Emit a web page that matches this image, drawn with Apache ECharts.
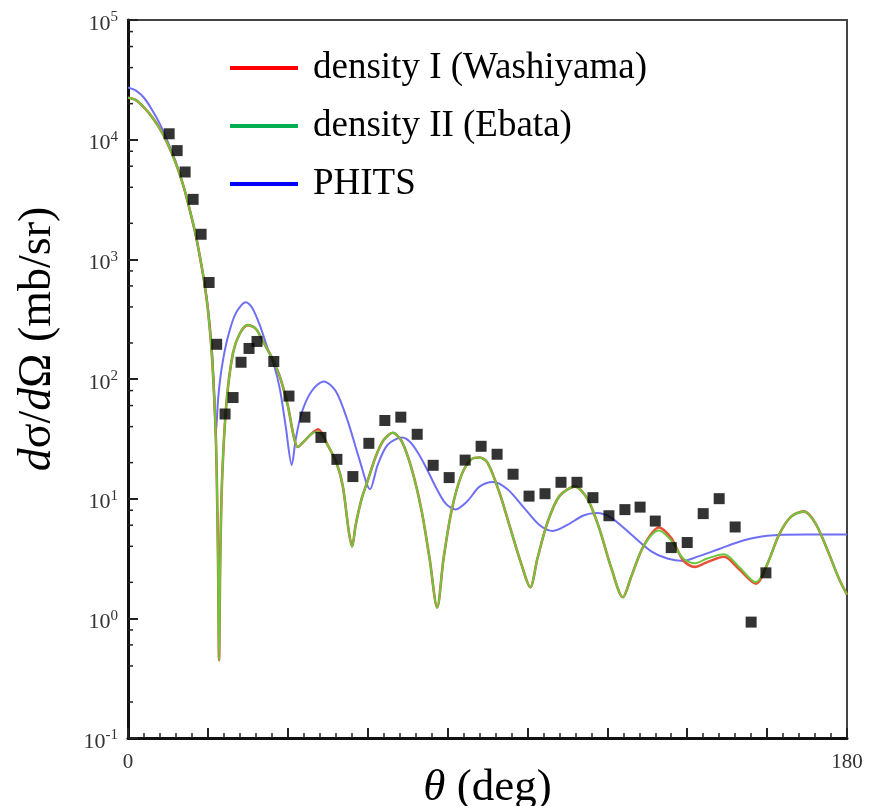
<!DOCTYPE html>
<html>
<head>
<meta charset="utf-8">
<script src="https://cdn.jsdelivr.net/npm/echarts@6/dist/echarts.min.js"></script>
<style>
  html, body { margin: 0; padding: 0; background: #fff; }
  #plot { width: 870px; height: 806px; }
</style>
</head>
<body>
<div id="plot"></div>
<script>
// density I (Washiyama) - 角度(deg) / 截面 (mb/sr)
var redAng = [0,2,4,6,8,10,12,14,16,17,18,19,20,21,22,22.5,22.8,23.1,23.6,24.7,26.3,28,30,32,34,36,38,40,41.5,42.5,44,46,47.6,50,52.3,53.8,55.3,56.1,57,58.5,60,62,64,66.3,68.5,71,73.5,75.5,77.4,79,81,83.5,86,88,90,93,96,98.5,100.7,102.5,105,108,111.9,115,118,121,123.9,126,129,132.9,136,139,141.9,145,149.2,153,157.2,160,163,166,169.2,172,175,178,180];
var redVal = [22400,21400,18600,15500,12300,9120,6310,3980,2190,1580,1050,676,380,158,31.6,3.98,0.447,3.16,15.8,66,166,240,282,263,200,151,105,60,33,27,30,35,38,28,19.5,12.6,5.25,3.98,6.03,10,14.1,22.4,30.9,35.5,30.2,17.8,7.94,3.16,1.23,3.16,7.94,15.8,21.4,22.1,20,11.2,5.25,2.82,1.82,3.16,6.31,10.5,12.6,10,5.62,2.63,1.50,2.24,3.98,5.75,4.68,3.05,2.69,2.95,3.27,2.57,1.95,2.82,5.01,7.08,7.83,6.31,3.80,2.14,1.58];

// density II (Ebata)
var greenAng = [0,2,4,6,8,10,12,14,16,17,18,19,20,21,22,22.5,22.8,23.1,23.6,24.7,26.3,28,30,32,34,36,38,40,41.5,42.5,44,46,47.6,50,52.3,53.8,55.3,56.1,57,58.5,60,62,64,66.3,68.5,71,73.5,75.5,77.4,79,81,83.5,86,88,90,93,96,98.5,100.7,102.5,105,108,111.9,115,118,121,123.9,126,129,132.9,136,139,141.9,145,149.2,153,157.2,160,163,166,169.2,172,175,178,180];
var greenVal = [22400,21400,18600,15500,12300,9120,6310,3980,2190,1580,1050,676,380,158,31.6,3.98,0.447,3.16,15.8,66,166,240,282,263,200,151,105,60,33,27,30,35,36,28,19.5,12.6,5.25,3.98,6.03,10,14.1,22.4,30.9,35.5,30.2,17.8,7.94,3.16,1.23,3.16,7.94,15.8,21.4,22.1,20,11.2,5.25,2.82,1.82,3.16,6.31,10.5,12.6,10,5.62,2.63,1.50,2.24,3.98,5.43,4.47,3.16,2.88,3.16,3.43,2.69,2.0,2.82,5.01,7.08,7.83,6.31,3.80,2.14,1.58];

// PHITS
var blueAng = [0,2,4,6,8,10,12,14,16,18,19,20,21,21.5,22,22.6,23.5,25,27,29.5,31,33,35,36.5,38,39.5,41,42,43.5,46,49,52,55,58,60.6,62.5,65,68.6,71,74,77,79.5,82,85,88,91.4,95,99,103,106.4,110,114,117.4,121,126,131,135,139,143,148,154,160,170,180];
var blueVal = [27300,25700,22400,17800,13500,9550,6460,3980,2190,1050,676,398,178,89,35.5,70.8,126,224,355,437,398,282,178,132,83,39.8,19.1,31.6,52.5,79.4,95.5,79.4,44.7,20.9,12.0,19.1,28.2,32.4,28.8,20,12.6,9.12,8.13,9.55,12.6,13.8,12.0,8.51,6.03,5.37,6.03,7.24,7.59,6.92,5.01,3.63,3.16,3.02,3.31,3.80,4.47,4.90,5.01,5.01];

// 实验数据
var expAng = [10.3,12.3,14.3,16.3,18.3,20.3,22.2,24.3,26.3,28.3,30.3,32.3,36.5,40.3,44.3,48.3,52.3,56.3,60.3,64.3,68.3,72.4,76.4,80.4,84.4,88.4,92.4,96.4,100.4,104.4,108.4,112.4,116.4,120.4,124.4,128.2,132,136,140,144,148,152,156,159.7];
var expVal = [11200,8100,5370,3170,1620,640,195,51,70,138,180,206,140,72,48,32.5,21.3,15.3,29,45,48,34.5,19,15,21,27.4,23.5,16,10.5,11,13.7,13.7,10.2,7.2,8.1,8.5,6.5,3.9,4.3,7.5,10,5.8,0.93,2.4];

// 对数轴的小刻度 (2,4,6,8 x 10^n)
var minorTickVals = [0.2,0.4,0.6,0.8,2,4,6,8,20,40,60,80,200,400,600,800,2000,4000,6000,8000,20000,40000,60000,80000];

var serif = 'Liberation Serif';

function pairs(xs, ys) {
  return xs.map(function (x, i) { return [x, ys[i]]; });
}

var myChart = echarts.init(document.getElementById('plot'));

var option = {
  animation: false,
  grid: {
    left: 128, right: 23, top: 20, bottom: 68,
    containLabel: false,
    outerBoundsMode: 'none',
    show: true, borderColor: '#444', borderWidth: 2, backgroundColor: 'transparent'
  },
  legend: {
    orient: 'vertical',
    left: 230,
    top: 48,
    padding: 0,
    icon: 'rect',
    itemWidth: 68,
    itemHeight: 4,
    itemGap: 18,
    selectedMode: false,
    textStyle: { fontFamily: serif, fontSize: 37, lineHeight: 40, color: '#000', padding: [0, 0, 0, 10] },
    data: [
      { name: 'density I (Washiyama)', itemStyle: { color: '#ff0000' } },
      { name: 'density II (Ebata)', itemStyle: { color: '#00b050' } },
      { name: 'PHITS', itemStyle: { color: '#0000ff' } }
    ]
  },
  xAxis: {
    type: 'value',
    min: 0, max: 180, interval: 20,
    name: '{i|θ} (deg)',
    nameLocation: 'middle',
    nameGap: 28,
    nameMoveOverlap: false,
    nameTextStyle: {
      fontFamily: serif, fontSize: 45, color: '#000',
      rich: {
        i: { fontFamily: serif, fontSize: 45, fontStyle: 'italic', color: '#000' }
      }
    },
    axisLine: { lineStyle: { color: '#111', width: 3 } },
    axisTick: { inside: true, length: 10, lineStyle: { color: '#222', width: 2 } },
    minorTick: { show: true, splitNumber: 5, length: 5, lineStyle: { color: '#222', width: 1.5 } },
    splitLine: { show: false },
    axisLabel: {
      margin: 14,
      fontFamily: serif, fontSize: 21, color: '#333',
      formatter: function (v) { return (v === 0 || v === 180) ? String(v) : ''; }
    }
  },
  yAxis: {
    type: 'log',
    logBase: 10,
    min: 0.1, max: 100000,
    splitNumber: 6,
    name: '{i|d}σ/{i|d}Ω (mb/sr)',
    nameLocation: 'middle',
    nameGap: 67,
    nameMoveOverlap: false,
    nameTextStyle: {
      fontFamily: serif, fontSize: 46, color: '#000',
      padding: [0, 0, 0, 80],
      rich: {
        i: { fontFamily: serif, fontSize: 46, fontStyle: 'italic', color: '#000' }
      }
    },
    axisLine: { lineStyle: { color: '#111', width: 3 } },
    axisTick: { inside: true, length: 10, lineStyle: { color: '#222', width: 2 } },
    splitLine: { show: false },
    axisLabel: {
      margin: 10,
      padding: [8, 0, 0, 0],
      color: '#333',
      formatter: function (v) {
        var e = Math.round(Math.log10(v));
        return '{b|10}{s|' + e + '}';
      },
      rich: {
        b: { fontFamily: serif, fontSize: 22, color: '#333' },
        s: { fontFamily: serif, fontSize: 15, color: '#333', padding: [0, 0, 13, 0] }
      }
    }
  },
  series: [
    {
      name: 'minorTicks',
      type: 'custom',
      silent: true,
      clip: false,
      data: minorTickVals.map(function (v) { return [0, v]; }),
      renderItem: function (params, api) {
        var p = api.coord([0, api.value(1)]);
        return {
          type: 'line',
          shape: { x1: p[0], y1: p[1], x2: p[0] + 5, y2: p[1] },
          style: { stroke: '#222', lineWidth: 1.5 }
        };
      },
      z: 1
    },
    {
      name: 'PHITS',
      type: 'line',
      data: pairs(blueAng, blueVal),
      showSymbol: false,
      smooth: 0.3,
      lineStyle: { color: '#6f6ff5', width: 2 },
      itemStyle: { color: '#6f6ff5' },
      z: 2
    },
    {
      name: 'density I (Washiyama)',
      type: 'line',
      data: pairs(redAng, redVal),
      showSymbol: false,
      smooth: 0.3,
      lineStyle: { color: '#e8503a', width: 2.6 },
      itemStyle: { color: '#e8503a' },
      z: 3
    },
    {
      name: 'density II (Ebata)',
      type: 'line',
      data: pairs(greenAng, greenVal),
      showSymbol: false,
      smooth: 0.3,
      lineStyle: { color: '#6cc83a', width: 2 },
      itemStyle: { color: '#6cc83a' },
      z: 4
    },
    {
      name: 'exp',
      type: 'scatter',
      data: pairs(expAng, expVal),
      symbol: 'rect',
      symbolSize: 11,
      itemStyle: { color: '#000' },
      z: 5
    }
  ]
};

myChart.setOption(option);
</script>
</body>
</html>
